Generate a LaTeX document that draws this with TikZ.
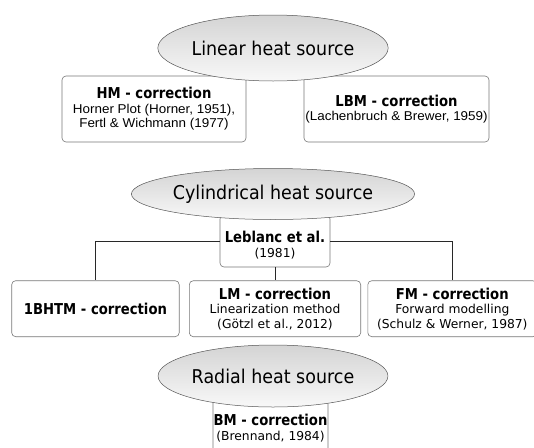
\documentclass[tikz,border=0pt]{standalone}
\usepackage{fontspec}
\setmainfont{DejaVu Sans}
\newfontfamily\tfont{DejaVu Sans}[FakeStretch=0.92]
\newfontfamily\nfont{DejaVu Sans}[FakeStretch=0.88]
\newfontfamily\afont{Liberation Sans}[FakeStretch=1.05]
\usepackage{tikz}
\usetikzlibrary{shapes.geometric, positioning}
\definecolor{myedge}{RGB}{85,85,85}
\definecolor{mybox}{RGB}{120,120,120}
\definecolor{myshade}{RGB}{212,212,212}
\definecolor{mylight}{RGB}{248,248,248}
\definecolor{mydark}{RGB}{40,40,40}
\tikzset{
  heat/.style={ellipse, draw=myedge, top color=myshade, bottom color=mylight,
    minimum width=226pt, inner sep=0pt, line width=0.5pt,
    font=\tfont\fontsize{19}{22}\selectfont},
  block/.style={rectangle, draw=mybox, fill=white, rounded corners=4pt,
    align=center, inner sep=0pt, line width=0.6pt,
    font=\fontsize{12.3}{14.5}\selectfont},
  line/.style={line width=0.7pt, color=mydark}
}
\newcommand{\hd}[1]{{\nfont\bfseries\fontsize{15}{14.5}\selectfont #1}}
\newcommand{\ar}[1]{{\afont\fontsize{12.8}{13.5}\selectfont #1}}

\begin{document}
\begin{tikzpicture}[x=1pt, y=-1pt]
  \clip (0,0) rectangle (534,447);
  % linear heat source
  \node[block, minimum width=184pt, minimum height=66pt] (hm) at (154,109)
    {\hd{HM - correction}\\\ar{Horner Plot (Horner, 1951),}\\\ar{Fertl \& Wichmann (1977)}};
  \node[block, minimum width=185pt, minimum height=66pt] (lbm) at (396.5,109)
    {\hd{LBM - correction}\\\ar{(Lachenbruch \& Brewer, 1959)}};
  \node[heat, minimum height=66pt] (lin) at (273,48) {Linear heat source};

  % cylindrical heat source
  \node[block, minimum width=110pt, minimum height=52pt] (leb) at (275,241)
    {\rule{0pt}{20pt}\hd{Leblanc et al.}\\(1981)};
  \node[block, minimum width=171.4pt, minimum height=56pt] (lm) at (275,308.7)
    {\hd{LM - correction}\\Linearization method\\(Götzl et al., 2012)};
  \node[block, minimum width=167.5pt, minimum height=56pt, left=9.5pt of lm] (bhtm)
    {\hd{1BHTM - correction}};
  \node[block, minimum width=169pt, minimum height=56pt, right=6.5pt of lm] (fm)
    {\hd{FM - correction}\\Forward modelling\\(Schulz \& Werner, 1987)};
  \draw[line] (leb.west) -| (bhtm.north);
  \draw[line] (leb.east) -| (fm.north);
  \draw[line] (leb) -- (lm);
  \node[heat, minimum height=51pt] (cyl) at (273,194) {Cylindrical heat source};

  % radial heat source
  \node[block, minimum width=115pt, minimum height=76pt] (bm) at (270.5,428)
    {\hd{BM - correction}\\(Brennand, 1984)};
  \node[heat, minimum height=62pt] (rad) at (273,376) {Radial heat source};
\end{tikzpicture}
\end{document}
